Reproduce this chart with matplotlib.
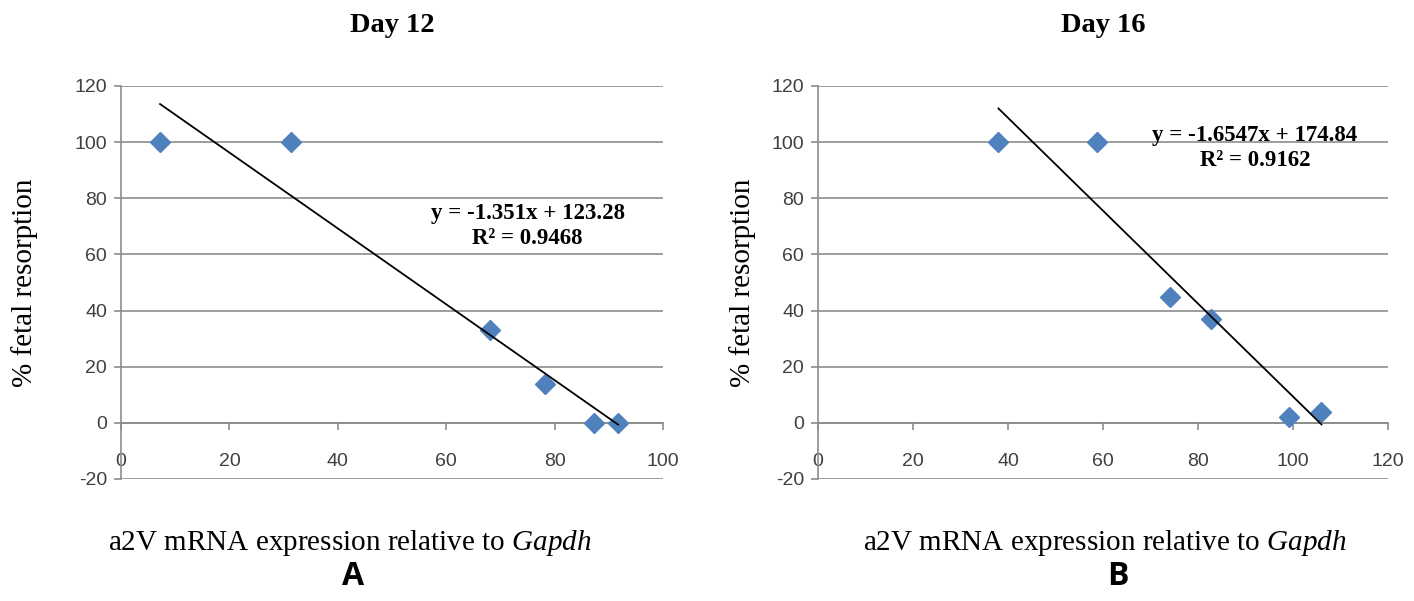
import matplotlib.pyplot as plt
from matplotlib.ticker import MultipleLocator
import numpy as np

plt.rcParams['mathtext.fontset'] = 'custom'
plt.rcParams['mathtext.rm'] = 'Liberation Serif'
plt.rcParams['mathtext.it'] = 'Liberation Serif:italic'
plt.rcParams['axes.unicode_minus'] = False

# Day 12 data
x12 = [7.2, 31.3, 68.0, 78.2, 87.3, 91.7]
y12 = [100, 100, 33, 14, 0, 0]
slope12, icpt12 = -1.351, 123.28
r2_12 = 0.9468

# Day 16 data
x16 = [38.0, 58.8, 74.1, 82.8, 99.2, 106.0]
y16 = [100, 100, 45, 37, 2, 4]
slope16, icpt16 = -1.6547, 174.84
r2_16 = 0.9162

GRID = "#8c8c8c"
BLUE = "#4f81bd"
TICKFONT = ['Liberation Sans Narrow', 'Liberation Sans', 'DejaVu Sans']


def plotPanel(ax, x, y, slope, icpt, r2, xmax, title, eqpos, ypad):
    ax.set_xlim(0, xmax)
    ax.set_ylim(-20, 120)
    ax.xaxis.set_major_locator(MultipleLocator(20))
    ax.yaxis.set_major_locator(MultipleLocator(20))

    for s in ["top", "right"]:
        ax.spines[s].set_visible(False)
    ax.spines["left"].set_color(GRID)
    ax.spines["bottom"].set_color(GRID)
    ax.spines["bottom"].set_position(("data", 0))
    ax.spines["left"].set_linewidth(1.2)
    ax.spines["bottom"].set_linewidth(1.2)

    ax.yaxis.grid(True, color=GRID, linewidth=1.2)
    ax.set_axisbelow(True)
    ax.tick_params(axis="both", direction="out", length=5, width=1.2,
                   color=GRID, labelcolor="#404040", labelsize=14)
    ax.tick_params(axis="x", pad=17)
    ax.tick_params(axis="y", pad=5)
    for lab in ax.get_xticklabels() + ax.get_yticklabels():
        lab.set_fontfamily(TICKFONT)

    ax.plot(x, y, "D", color=BLUE, markersize=10, zorder=3, clip_on=False)
    xs = np.array([min(x), max(x)])
    ax.plot(xs, slope * xs + icpt, color="black", linewidth=1.3, zorder=4)

    eq = "y = %gx + %.2f\nR² = %.4f" % (slope, icpt, r2)
    ax.text(eqpos[0], eqpos[1], eq, ha="center", va="center",
            family="Liberation Serif", weight="bold", fontsize=16.5,
            linespacing=1.25)

    ax.set_ylabel("% fetal resorption", family="Liberation Serif",
                  fontsize=21, labelpad=ypad)
    ax.set_title(title, family="Liberation Serif", weight="bold",
                 fontsize=20.5, pad=39)


fig = plt.figure(figsize=(14.14, 6.01), dpi=100)
ax1 = fig.add_axes([0.0856, 0.203, 0.3833, 0.654])
ax2 = fig.add_axes([0.5785, 0.203, 0.4031, 0.654])

plotPanel(ax1, x12, y12, slope12, icpt12, r2_12, 100, "Day 12", (75, 70), 26)
plotPanel(ax2, x16, y16, slope16, icpt16, r2_16, 120, "Day 16", (92, 98), 11)

xlab = r"a2V mRNA expression relative to $\it{Gapdh}$"
for xc, xl, letter in [(0.2475, 0.2497, "A"), (0.7815, 0.7907, "B")]:
    fig.text(xc, 0.0965, xlab, ha="center", va="center",
             family="Liberation Serif", fontsize=21)
    fig.text(xl, 0.040, letter, ha="center", va="center",
             family="Open Sans", weight="bold", fontsize=23)

fig.savefig("out.png", dpi=100, facecolor="white")
